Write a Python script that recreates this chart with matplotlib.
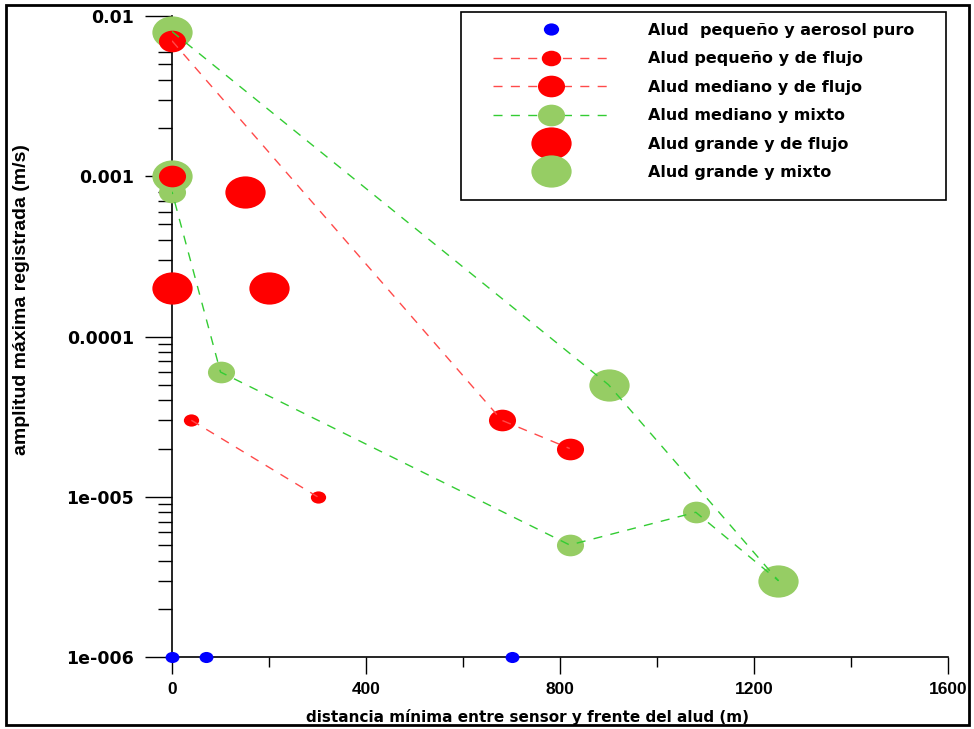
import matplotlib
matplotlib.use('Agg')
import matplotlib.pyplot as plt
from matplotlib.path import Path
from matplotlib.transforms import Affine2D
from matplotlib.lines import Line2D
from matplotlib.patches import Rectangle
from matplotlib.ticker import MultipleLocator, LogLocator, NullFormatter

# datos
aerosol_x = [0, 70, 700]
aerosol_y = [1e-6, 1e-6, 1e-6]

peq_flujo_x = [40, 300]
peq_flujo_y = [3e-5, 1e-5]

med_flujo_x = [0, 0, 680, 820]
med_flujo_y = [1e-3, 7e-3, 3e-5, 2e-5]

gra_flujo_x = [150, 0, 200]
gra_flujo_y = [8e-4, 2e-4, 2e-4]

med_mixto_x = [0, 100, 820, 1080]
med_mixto_y = [8e-4, 6e-5, 5e-6, 8e-6]

gra_mixto_x = [0, 0, 900, 1250]
gra_mixto_y = [8e-3, 1e-3, 5e-5, 3e-6]

# recorrido de la linea discontinua verde (aludes mixtos)
mixto_linea_x = [0, 900, 1250, 1080, 820, 100, 0]
mixto_linea_y = [8e-3, 5e-5, 3e-6, 8e-6, 5e-6, 6e-5, 8e-4]

ytick_vals = [1e-6, 1e-5, 1e-4, 1e-3, 1e-2]
ytick_labels = ['1e-006', '1e-005', '0.0001', '0.001', '0.01']

labels = ['Alud  pequeño y aerosol puro', 'Alud pequeño y de flujo',
          'Alud mediano y de flujo', 'Alud mediano y mixto',
          'Alud grande y de flujo', 'Alud grande y mixto']

RED = '#ff0000'
GREEN = '#96cd64'
BLUE = '#0000ff'
RED_LINE = '#ff4a4a'
GREEN_LINE = '#33cc33'
DASH = (0, (6.5, 6))

# marcador eliptico (mas ancho que alto)
ellipse = Path.unit_circle().transformed(Affine2D().scale(1.25, 1.0))

fig = plt.figure(figsize=(9.74, 7.29), dpi=100)
ax = fig.add_axes([172 / 974, 1 - 657 / 729, (948 - 172) / 974, (657 - 16) / 729])

# lineas discontinuas
ax.plot(peq_flujo_x, peq_flujo_y, color=RED_LINE, lw=1, ls=DASH, zorder=5)
ax.plot(med_flujo_x[1:], med_flujo_y[1:], color=RED_LINE, lw=1, ls=DASH, zorder=5)
ax.plot(mixto_linea_x, mixto_linea_y, color=GREEN_LINE, lw=1, ls=DASH, zorder=5)

# puntos
kw = dict(ls='none', marker=ellipse, clip_on=False, markeredgewidth=0)
ax.plot(gra_mixto_x, gra_mixto_y, color=GREEN, ms=29, zorder=3, **kw)
ax.plot(med_mixto_x, med_mixto_y, color=GREEN, ms=19.5, zorder=3, **kw)
ax.plot(gra_flujo_x, gra_flujo_y, color=RED, ms=29, zorder=4, **kw)
ax.plot(med_flujo_x, med_flujo_y, color=RED, ms=19.5, zorder=4, **kw)
ax.plot(peq_flujo_x, peq_flujo_y, color=RED, ms=11, zorder=4, **kw)
ax.plot(aerosol_x, aerosol_y, color=BLUE, ms=10, zorder=4, **kw)

ax.set_yscale('log')
ax.set_xlim(0, 1600)
ax.set_ylim(1e-6, 1e-2)
for s in ['top', 'right']:
    ax.spines[s].set_visible(False)
for s in ['left', 'bottom']:
    ax.spines[s].set_linewidth(1.2)
    ax.spines[s].set_zorder(2)

ax.xaxis.set_major_locator(MultipleLocator(400))
ax.xaxis.set_minor_locator(MultipleLocator(200))
ax.set_yticks(ytick_vals, labels=ytick_labels)
ax.yaxis.set_minor_locator(LogLocator(base=10, subs=range(2, 10)))
ax.yaxis.set_minor_formatter(NullFormatter())

ax.tick_params(axis='y', which='major', length=19.5, width=1, direction='out', pad=8)
ax.tick_params(axis='y', which='minor', length=10, width=1, direction='out')
ax.tick_params(axis='x', which='major', length=12, width=1, direction='out', pad=6)
ax.tick_params(axis='x', which='minor', length=7, width=1, direction='out')
for t in ax.get_yticklabels():
    t.set_fontfamily('DejaVu Sans')
    t.set_fontweight('bold')
    t.set_fontsize(12.5)
for t in ax.get_xticklabels():
    t.set_fontfamily('Liberation Sans')
    t.set_fontweight('bold')
    t.set_fontsize(12.5)

fig.text(528 / 974, 1 - 717 / 729, 'distancia mínima entre sensor y frente del alud (m)',
         ha='center', va='center', fontsize=11, fontweight='bold', family='DejaVu Sans')
fig.text(22 / 974, 1 - 300 / 729, 'amplitud máxima registrada (m/s)', rotation=90,
         ha='center', va='center', fontsize=14, fontweight='bold', family='Liberation Sans')

# leyenda
handles = [
    Line2D([], [], ls='none', marker=ellipse, color=BLUE, ms=11, markeredgewidth=0),
    Line2D([], [], ls=DASH, lw=1, color=RED_LINE, marker=ellipse, ms=14,
           markerfacecolor=RED, markeredgewidth=0),
    Line2D([], [], ls=DASH, lw=1, color=RED_LINE, marker=ellipse, ms=19.5,
           markerfacecolor=RED, markeredgewidth=0),
    Line2D([], [], ls=DASH, lw=1, color=GREEN_LINE, marker=ellipse, ms=19.5,
           markerfacecolor=GREEN, markeredgewidth=0),
    Line2D([], [], ls='none', marker=ellipse, color=RED, ms=29, markeredgewidth=0),
    Line2D([], [], ls='none', marker=ellipse, color=GREEN, ms=29, markeredgewidth=0),
]
leg = fig.legend(handles, labels, loc='upper left',
                 bbox_to_anchor=(493 / 974, 1 - 23 / 729),
                 borderaxespad=0, borderpad=0, handlelength=7.3, handletextpad=2.4,
                 labelspacing=0.84, numpoints=1, frameon=False,
                 prop={'family': 'DejaVu Sans', 'weight': 'bold', 'size': 11.5})

# marco de la leyenda
fig.patches.append(Rectangle((461 / 974, 1 - 200 / 729), 485 / 974, 188 / 729,
                             transform=fig.transFigure, fill=False,
                             edgecolor='black', linewidth=1.2))

# marco exterior
fig.patches.append(Rectangle((6 / 974, 4 / 729), 963 / 974, 720 / 729, transform=fig.transFigure,
                             fill=False, edgecolor='black', linewidth=2))

fig.savefig('out.png', dpi=100)
